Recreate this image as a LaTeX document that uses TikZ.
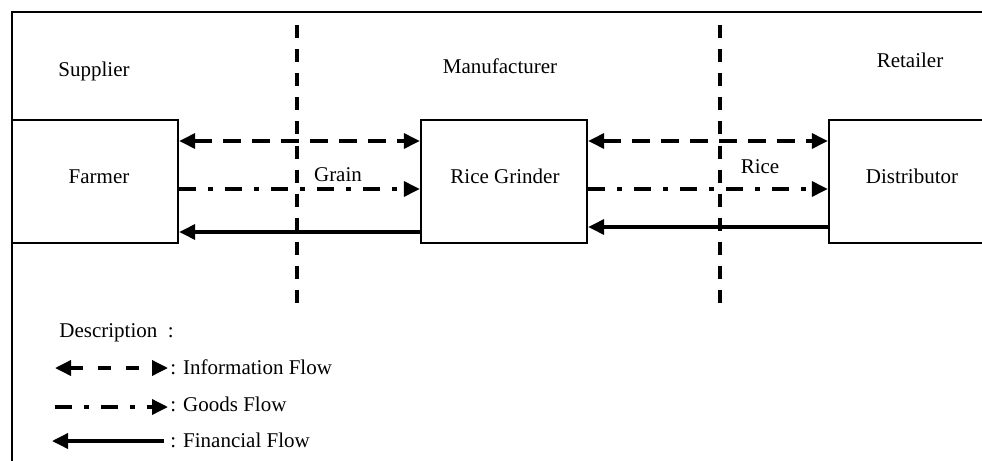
\documentclass[tikz,border=0pt]{standalone}
\usepackage{fontspec}
\setmainfont{Liberation Serif}
\usetikzlibrary{arrows.meta,calc}
\begin{document}
\begin{tikzpicture}[x=0.5pt,y=-0.5pt,
  font=\fontsize{10.5pt}{12pt}\selectfont,
  box/.style={draw,line width=1.2pt,minimum height=61.5pt,inner sep=0pt},
  txt/.style={anchor=base,inner sep=0pt},
  ltxt/.style={anchor=base west,inner sep=0pt},
  tip/.style={-{Triangle[length=8pt,width=7.5pt]}},
  info/.style={line width=1.75pt,dash pattern=on 9pt off 5.5pt,{Triangle[length=8pt,width=7.5pt]}-{Triangle[length=8pt,width=7.5pt]}},
  linfo/.style={line width=1.75pt,dash pattern=on 6.5pt off 7.5pt,{Triangle[length=8pt,width=7.5pt]}-{Triangle[length=8pt,width=7.5pt]}},
  goods/.style={line width=1.75pt,dash pattern=on 8.5pt off 6pt on 2.5pt off 6pt,tip},
  money/.style={line width=1.75pt,tip},
  divider/.style={line width=2.2pt,dash pattern=on 6.5pt off 5.55pt}]
\useasboundingbox (0,0) rectangle (982,461);
% frame
\draw[line width=1.2pt] (12,480) -- (12,12) -- (1000,12);
% dividers
\coordinate (d1a) at (297,25); \coordinate (d1b) at (297,303);
\coordinate (d2a) at (720,25); \coordinate (d2b) at (720,303);
\draw[divider] (d1a) -- (d1b);
\draw[divider] (d2a) -- (d2b);
% headers
\node[txt] (sup) at (94,76) {Supplier};
\node[txt] (man) at (500,73) {Manufacturer};
\node[txt] (ret) at (910,67) {Retailer};
% boxes
\node[box,minimum width=83pt] (farmer) at (95,181.5) {};
\node[box,minimum width=83pt] (grinder) at (504,181.5) {};
\node[box,minimum width=90.5pt] (dist) at (919.5,181.5) {};
\node[txt] (farmerT) at (99,183) {Farmer};
\node[txt] (grinderT) at (505,183) {Rice Grinder};
\node[txt] (distT) at (912,183) {Distributor};
% flows
\draw[info] ($(farmer.east)+(0,-40.5)$) -- ($(grinder.west)+(0,-40.5)$);
\draw[info] ($(grinder.east)+(0,-40.5)$) -- ($(dist.west)+(0,-40.5)$);
\draw[goods] ($(farmer.east)+(0,7.5)$) -- ($(grinder.west)+(0,7.5)$);
\draw[goods] ($(grinder.east)+(0,7.5)$) -- ($(dist.west)+(0,7.5)$);
\draw[money] ($(grinder.west)+(0,50.5)$) -- ($(farmer.east)+(0,50.5)$);
\draw[money] ($(dist.west)+(0,45.5)$) -- ($(grinder.east)+(0,45.5)$);
\node[txt] (grain) at (338,181) {Grain};
\node[txt] (rice) at (760,173) {Rice};
% legend
\node[ltxt] (desc) at (59,337) {Description\ \ :};
\coordinate (l1a) at (55,368); \coordinate (l1b) at (168,368);
\coordinate (l2a) at (55,407); \coordinate (l2b) at (168,407);
\coordinate (l3a) at (52,441); \coordinate (l3b) at (164,441);
\draw[linfo] (l1a) -- (l1b);
\draw[goods] (l2a) -- (l2b);
\draw[money] (l3b) -- (l3a);
\node[ltxt] (lt1) at (170,374) {: Information Flow};
\node[ltxt] (lt2) at (170,411) {: Goods Flow};
\node[ltxt] (lt3) at (170,447) {: Financial Flow};
\end{tikzpicture}
\end{document}
